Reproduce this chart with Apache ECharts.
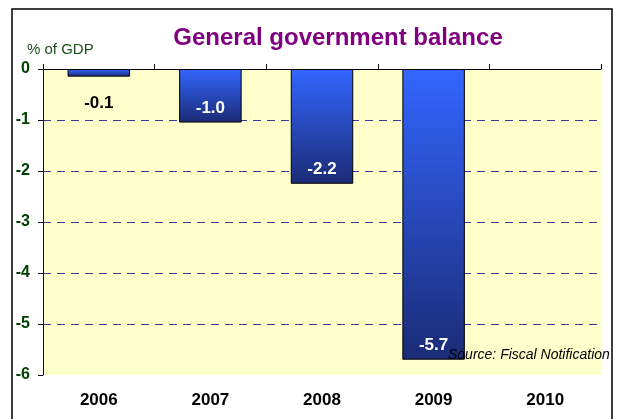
<!DOCTYPE html>
<html><head><meta charset="utf-8">
<script src="https://cdn.jsdelivr.net/npm/echarts@6/dist/echarts.min.js"></script>
<style>html,body{margin:0;padding:0;background:#fff}#c{width:618px;height:419px}</style>
</head><body><div id="c"></div>
<script>
var categories = ['2006', '2007', '2008', '2009', '2010'];
var balance = [-0.15, -1.05, -2.25, -5.7, null];
var balanceLabels = ['-0.1', '-1.0', '-2.2', '-5.7', ''];
var yTicks = [0, -1, -2, -3, -4, -5, -6];

var chart = echarts.init(document.getElementById('c'), null, {renderer: 'canvas'});
var barColor = new echarts.graphic.LinearGradient(0, 0, 0, 1, [
  {offset: 0, color: '#3366ff'}, {offset: 1, color: '#1b2b76'}
]);
var data = balance.map(function (v, i) {
  if (v === null) return null;
  var small = Math.abs(v) < 0.5;
  return {
    value: v, name: balanceLabels[i],
    label: small ? {position: 'bottom', distance: 18, color: '#000'} : {position: 'insideBottom', distance: 6, color: '#fff'}
  };
});
var transparent = 'rgba(0,0,0,0)';
var gc = '#3a3a92';
chart.setOption({
  animation: false,
  textStyle: {fontFamily: 'Liberation Sans, Arial, sans-serif'},
  title: {
    text: 'General government balance', left: 333, top: 21, textAlign: 'center',
    textStyle: {color: '#800080', fontSize: 24, fontWeight: 'bold', fontFamily: 'Liberation Sans, Arial, sans-serif'}
  },
  grid: {left: 43, top: 69, right: 17, bottom: 44, show: true, backgroundColor: '#ffffcc', borderWidth: 0},
  xAxis: [{
    type: 'category', data: categories, position: 'top',
    axisLine: {show: true, lineStyle: {color: '#000', width: 1}},
    axisTick: {show: true, length: 5, lineStyle: {color: '#000'}},
    axisLabel: {show: false}, splitLine: {show: false}
  }, {
    type: 'category', data: categories, position: 'bottom',
    axisLine: {show: false}, axisTick: {show: false},
    axisLabel: {show: true, margin: 17, color: '#000', fontSize: 17, fontWeight: 'bold'}
  }],
  yAxis: {
    type: 'value', min: -6, max: 0, interval: 1,
    axisLine: {show: true, lineStyle: {color: '#111', width: 1}},
    axisTick: {show: true, length: 5, lineStyle: {color: '#111'}},
    axisLabel: {margin: 13, color: '#004000', fontSize: 16, fontWeight: 'bold'},
    splitLine: {show: true, lineStyle: {type: [8, 6], width: 1,
      color: [transparent, gc, gc, gc, gc, gc, transparent]}}
  },
  series: [{
    type: 'bar', xAxisIndex: 0, data: data, barWidth: '56%',
    itemStyle: {color: barColor, borderColor: '#000', borderWidth: 1},
    label: {show: true, fontSize: 17, fontWeight: 'bold', formatter: function (p) { return p.name; }}
  }],
  graphic: [
    {type: 'rect', shape: {x: 12, y: 9, width: 600, height: 430}, style: {fill: null, stroke: '#000', lineWidth: 1.5}, silent: true, z: 100},
    {type: 'text', left: 27, top: 42, style: {text: '% of GDP', fill: '#1e4d1e', font: '15px Liberation Sans, Arial, sans-serif'}},
    {type: 'text', left: 448, top: 348, style: {text: 'Source: Fiscal Notification', fill: '#000', font: 'italic 14px Liberation Sans, Arial, sans-serif'}, z: 50}
  ]
});
</script></body></html>
